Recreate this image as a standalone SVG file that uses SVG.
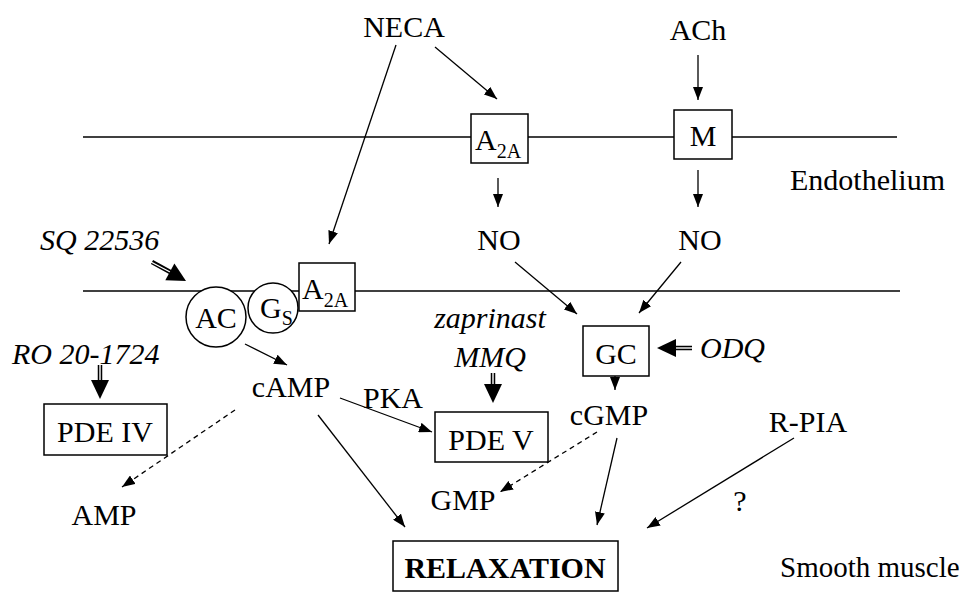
<svg xmlns="http://www.w3.org/2000/svg" width="965" height="602" viewBox="0 0 965 602" font-family="'Liberation Serif','Times New Roman',serif">
<style>
text{font-family:"Liberation Serif","Times New Roman",serif;font-size:30px;fill:#000}
.it{font-style:italic}
.sub{font-size:20px}
.b{font-weight:bold}
.ln{stroke:#000;stroke-width:1.3;fill:none}
.ar{stroke:#000;stroke-width:1.3;fill:none;marker-end:url(#ah)}
.da{stroke:#000;stroke-width:1.3;fill:none;stroke-dasharray:5,4;marker-end:url(#ah)}
.box{fill:#fff;stroke:#000;stroke-width:1.5}
.sh{stroke:#000;stroke-width:4.5}
.shw{stroke:#fff;stroke-width:1.4}
</style>
<defs>
<marker id="ah" markerUnits="userSpaceOnUse" markerWidth="13" markerHeight="10" refX="13" refY="5" orient="auto">
<path d="M0,0 L13,5 L0,10 z" fill="#000"/>
</marker>
</defs>
<rect width="965" height="602" fill="#fff"/>

<g id="membranes">
<line class="ln" x1="83" y1="137" x2="897" y2="137"/>
<line class="ln" x1="83" y1="291" x2="900" y2="291"/>
</g>

<g id="connectors">
<line class="ar" x1="435" y1="47" x2="497" y2="99"/>
<line class="ar" x1="396" y1="45" x2="329" y2="244"/>
<line class="ar" x1="698" y1="55" x2="698" y2="100"/>
<line class="ar" x1="498" y1="178" x2="498" y2="207"/>
<line class="ar" x1="698" y1="170" x2="698" y2="207"/>
<line class="ar" x1="515" y1="262" x2="577" y2="314"/>
<line class="ar" x1="681" y1="262" x2="639" y2="313"/>
<line class="ar" x1="245" y1="344" x2="287" y2="365"/>
<line class="ar" x1="340" y1="398" x2="432" y2="432"/>
<line class="ar" x1="615" y1="368" x2="615" y2="390"/>
<line class="da" x1="235" y1="410" x2="122" y2="487"/>
<line class="da" x1="597" y1="432" x2="500" y2="492"/>
<line class="ar" x1="318" y1="415" x2="405" y2="527"/>
<line class="ar" x1="617" y1="438" x2="597" y2="525"/>
<line class="ar" x1="794" y1="438" x2="647" y2="528"/>
<!-- SQ 22536 thick arrow -->
<g>
<line class="sh" x1="152" y1="262" x2="172" y2="273"/>
<line class="shw" x1="151" y1="262" x2="172" y2="273"/>
<polygon points="186,281 174.4,263.5 165.3,280.3" fill="#000"/>
</g>
<!-- RO 20-1724 thick arrow -->
<g>
<line class="sh" x1="100" y1="365" x2="100" y2="383"/>
<line class="shw" x1="100" y1="364" x2="100" y2="383"/>
<polygon points="100,399 91,380 109,380" fill="#000"/>
</g>
<!-- MMQ thick arrow -->
<g>
<line class="sh" x1="493" y1="373" x2="493" y2="387"/>
<line class="shw" x1="493" y1="372" x2="493" y2="387"/>
<polygon points="493,403 484,384 502,384" fill="#000"/>
</g>
<!-- ODQ thick arrow -->
<g>
<line class="sh" x1="692" y1="348" x2="672" y2="348"/>
<line class="shw" x1="693" y1="348" x2="672" y2="348"/>
<polygon points="657,348 676,339 676,357" fill="#000"/>
</g>
</g>

<g id="NECA"><text x="404" y="37" text-anchor="middle">NECA</text></g>
<g id="ACh"><text x="698" y="40" text-anchor="middle">ACh</text></g>
<g id="A2A_endo">
<rect class="box" x="471" y="114" width="57" height="49"/>
<text x="475" y="150">A<tspan class="sub" dy="8">2A</tspan></text>
</g>
<g id="M">
<rect class="box" x="674" y="110" width="58" height="49"/>
<text x="703" y="146" text-anchor="middle">M</text>
</g>
<g id="Endothelium"><text x="790" y="190">Endothelium</text></g>
<g id="NO_left"><text x="499" y="250" text-anchor="middle">NO</text></g>
<g id="NO_right"><text x="700" y="250" text-anchor="middle">NO</text></g>
<g id="SQ22536"><text class="it" x="40" y="250">SQ 22536</text></g>
<g id="AC">
<circle class="box" cx="216" cy="317" r="30"/>
<text x="216" y="328" text-anchor="middle">AC</text>
</g>
<g id="Gs">
<circle class="box" cx="273" cy="308" r="25"/>
<text x="260" y="318">G<tspan class="sub" dy="7">S</tspan></text>
</g>
<g id="A2A_sm">
<rect class="box" x="299" y="263" width="56" height="48"/>
<text x="302" y="299">A<tspan class="sub" dy="8">2A</tspan></text>
</g>
<g id="RO201724"><text class="it" x="12" y="364">RO 20-1724</text></g>
<g id="PDEIV">
<rect class="box" x="44" y="404" width="123" height="51"/>
<text x="105" y="442" text-anchor="middle">PDE IV</text>
</g>
<g id="cAMP"><text x="291" y="397" text-anchor="middle">cAMP</text></g>
<g id="PKA"><text x="393" y="408" text-anchor="middle">PKA</text></g>
<g id="zaprinast"><text class="it" x="490" y="328" text-anchor="middle">zaprinast</text></g>
<g id="MMQ"><text class="it" x="490" y="367" text-anchor="middle">MMQ</text></g>
<g id="PDEV">
<rect class="box" x="435" y="412" width="113" height="50"/>
<text x="491" y="450" text-anchor="middle">PDE V</text>
</g>
<g id="GC">
<rect class="box" x="583" y="326" width="66" height="50"/>
<text x="616" y="364" text-anchor="middle">GC</text>
</g>
<g id="ODQ"><text class="it" x="700" y="358">ODQ</text></g>
<g id="cGMP"><text x="609" y="425" text-anchor="middle">cGMP</text></g>
<g id="GMP"><text x="463" y="510" text-anchor="middle">GMP</text></g>
<g id="AMP"><text x="104" y="525" text-anchor="middle">AMP</text></g>
<g id="RPIA"><text x="808" y="432" text-anchor="middle">R-PIA</text></g>
<g id="question"><text x="740" y="511" text-anchor="middle">?</text></g>
<g id="RELAXATION">
<rect class="box" x="393" y="541" width="225" height="50"/>
<text class="b" x="505" y="578" text-anchor="middle">RELAXATION</text>
</g>
<g id="SmoothMuscle"><text x="780" y="577" style="font-size:29px">Smooth muscle</text></g>
</svg>
